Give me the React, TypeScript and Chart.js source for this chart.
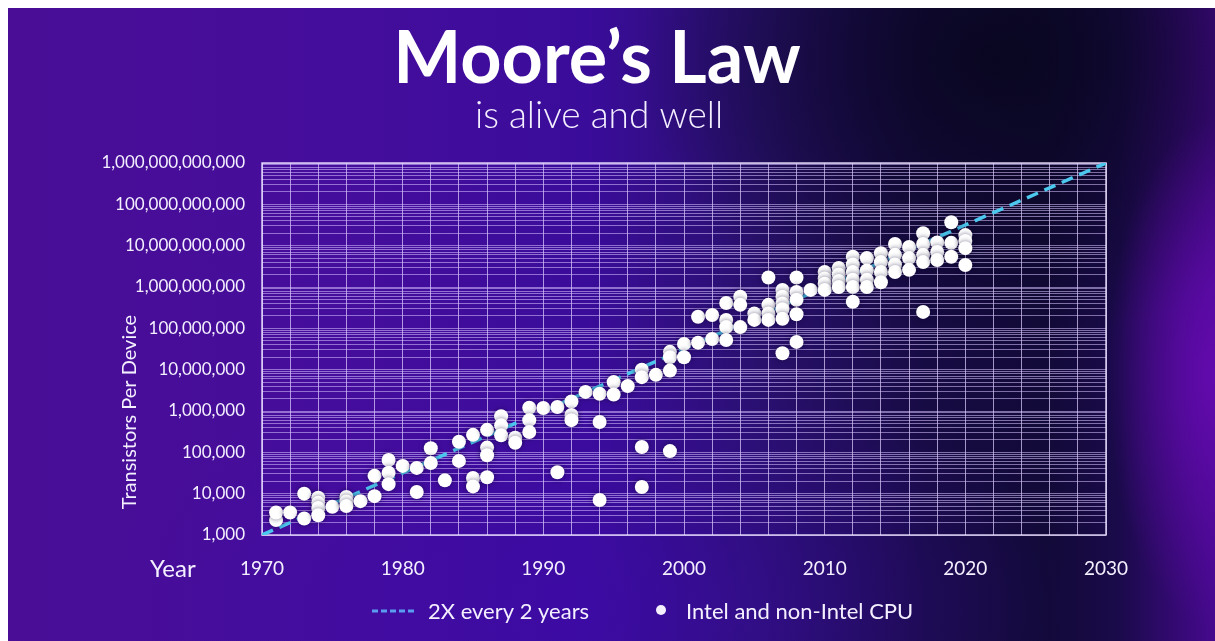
import React, { useEffect, useRef } from "react";
import { Chart, registerables } from "chart.js";

Chart.register(...registerables);

// ---- Data ----
const cpuYears = [
  1971, 1971, 1972, 1973, 1973,
  1974, 1974, 1974, 1974, 1975,
  1976, 1976, 1976, 1977, 1978, 1978,
  1979, 1979, 1979, 1980, 1981, 1981,
  1982, 1982, 1983, 1984, 1984,
  1985, 1985, 1985, 1986, 1986, 1986, 1986,
  1987, 1987, 1987, 1988, 1988,
  1989, 1989, 1989, 1990, 1991, 1991,
  1992, 1992, 1992, 1993, 1994, 1994, 1994,
  1995, 1995, 1996, 1997, 1997, 1997, 1997, 1998,
  1999, 1999, 1999, 1999, 2000, 2000, 2001, 2001, 2002, 2002,
  2003, 2003, 2003, 2003, 2004, 2004, 2004, 2005, 2005,
  2006, 2006, 2006, 2006,
  2007, 2007, 2007, 2007, 2007, 2007,
  2008, 2008, 2008, 2008, 2008, 2009,
  2010, 2010, 2010, 2010, 2011, 2011, 2011, 2011,
  2012, 2012, 2012, 2012, 2012, 2012,
  2013, 2013, 2013, 2013, 2014, 2014, 2014, 2014,
  2015, 2015, 2015, 2015, 2016, 2016, 2016,
  2017, 2017, 2017, 2017, 2017, 2018, 2018, 2018,
  2019, 2019, 2019, 2020, 2020, 2020, 2020,
];

const cpuTransistors = [
  2300, 3500, 3500, 10000, 2500,
  8000, 6000, 4500, 3000, 4800,
  8300, 6500, 5000, 6600, 27000, 8700,
  65000, 32000, 17000, 47000, 42000, 11000,
  126000, 55000, 21000, 180000, 62000,
  265000, 24000, 15000, 350000, 130000, 85000, 25000,
  750000, 450000, 260000, 225000, 170000,
  1200000, 600000, 310000, 1180000, 1250000, 33000,
  1700000, 800000, 600000, 2900000, 2600000, 540000, 7000,
  5000000, 2500000, 4000000, 10000000, 6600000, 135000, 14500, 7500000,
  27000000, 20000000, 9500000, 107000, 42000000, 20000000, 190000000, 45000000, 210000000, 55000000,
  410000000, 160000000, 107000000, 52000000, 580000000, 370000000, 107000000, 230000000, 160000000,
  1700000000, 370000000, 230000000, 160000000,
  850000000, 580000000, 400000000, 290000000, 170000000, 25000000,
  1700000000, 760000000, 490000000, 220000000, 47000000, 850000000,
  2300000000, 1600000000, 1200000000, 850000000, 2900000000, 2000000000, 1400000000, 1000000000,
  5400000000, 3500000000, 2300000000, 1500000000, 1000000000, 440000000,
  5000000000, 2500000000, 1500000000, 1000000000, 6600000000, 4000000000, 2300000000, 1300000000,
  11000000000, 6000000000, 3500000000, 2300000000, 9300000000, 5000000000, 2600000000,
  20000000000, 11000000000, 6000000000, 4000000000, 250000000, 12000000000, 7000000000, 4500000000,
  37000000000, 11700000000, 5400000000, 18000000000, 13000000000, 8700000000, 3400000000,
];

const trendYears = [1970, 2030];
const trendTransistors = [1000, 1000000000000];

const xLabelYears = [1970, 1980, 1990, 2000, 2010, 2020, 2030];
const yLabelValues = [
  1000, 10000, 100000, 1000000, 10000000, 100000000,
  1000000000, 10000000000, 100000000000, 1000000000000,
];
const yMinorMantissas = [1, 2, 3, 4, 5, 6, 7, 8, 9];

const titleText = "Moore\u2019s Law";
const subtitleText = "is alive and well";
const yAxisTitle = "Transistors Per Device";
const xAxisTitle = "Year";
const trendLabel = "2X every 2 years";
const cpuLabel = "Intel and non-Intel CPU";

const FONT = "Lato, 'Open Sans', sans-serif";
const TREND_COLOR = "#4cc8ee";

const decorPlugin = {
  id: "decor",
  beforeDatasetsDraw(chart: any) {
    const { ctx, chartArea } = chart;
    ctx.save();
    ctx.strokeStyle = "rgba(236,226,255,0.9)";
    ctx.lineWidth = 1.5;
    ctx.strokeRect(chartArea.left, chartArea.top, chartArea.right - chartArea.left, chartArea.bottom - chartArea.top);
    ctx.restore();
  },
  beforeDatasetDraw(chart: any, args: any) {
    if (args.index === 1) {
      const ctx = chart.ctx;
      ctx.save();
      ctx.shadowColor = "rgba(15,0,50,0.55)";
      ctx.shadowBlur = 5;
    }
  },
  afterDatasetDraw(chart: any, args: any) {
    if (args.index === 1) chart.ctx.restore();
  },
  afterDraw(chart: any) {
    const { ctx } = chart;
    ctx.save();
    ctx.fillStyle = "#ffffff";
    ctx.textBaseline = "alphabetic";
    ctx.textAlign = "center";
    ctx.font = `700 72px ${FONT}`;
    ctx.fillText(titleText, 589, 75);
    ctx.font = `300 37px ${FONT}`;
    ctx.fillStyle = "#f4f0ff";
    ctx.fillText(subtitleText, 591, 120);

    // x axis title "Year"
    ctx.textAlign = "left";
    ctx.textBaseline = "middle";
    ctx.font = `400 24px ${FONT}`;
    ctx.fillText(xAxisTitle, 142, 561);

    // y axis title
    ctx.save();
    ctx.translate(122, 404);
    ctx.rotate(-Math.PI / 2);
    ctx.textAlign = "center";
    ctx.font = `400 20px ${FONT}`;
    ctx.fillText(yAxisTitle, 0, 0);
    ctx.restore();

    // legend
    const ly = 603;
    ctx.save();
    ctx.strokeStyle = "#5a9cf0";
    ctx.lineWidth = 3;
    ctx.setLineDash([6, 3]);
    ctx.beginPath();
    ctx.moveTo(364, ly);
    ctx.lineTo(407, ly);
    ctx.stroke();
    ctx.restore();
    ctx.font = `400 22px ${FONT}`;
    ctx.textAlign = "left";
    ctx.fillText(trendLabel, 420, ly + 1);
    ctx.beginPath();
    ctx.arc(653, ly - 1, 5, 0, Math.PI * 2);
    ctx.fill();
    ctx.fillText(cpuLabel, 678, ly + 1);
    ctx.restore();
  },
};

export default function App() {
  const canvasRef = useRef<HTMLCanvasElement | null>(null);

  useEffect(() => {
    const canvas = canvasRef.current;
    if (!canvas) return;
    const cpuPoints = cpuYears.map((y, i) => ({ x: y, y: cpuTransistors[i] }));
    const trendPoints = trendYears.map((y, i) => ({ x: y, y: trendTransistors[i] }));

    const chart = new Chart(canvas, {
      type: "scatter",
      data: {
        datasets: [
          {
            label: trendLabel,
            data: trendPoints,
            showLine: true,
            borderColor: TREND_COLOR,
            borderWidth: 3.5,
            borderDash: [12, 7],
            pointRadius: 0,
            order: 2,
          },
          {
            label: cpuLabel,
            data: cpuPoints,
            backgroundColor: "#ffffff",
            borderWidth: 0,
            pointRadius: 7,
            order: 1,
          },
        ],
      },
      options: {
        responsive: false,
        animation: false,
        layout: { padding: { left: 0, top: 155, right: 109, bottom: 46 } },
        plugins: {
          legend: { display: false },
          tooltip: { enabled: false },
        },
        scales: {
          x: {
            type: "linear",
            min: 1970,
            max: 2030,
            afterFit: (s: any) => {
              s.height = 60;
            },
            ticks: {
              stepSize: 2,
              autoSkip: false,
              maxRotation: 0,
              padding: 22,
              color: "#f4f0ff",
              font: { family: FONT, size: 19 },
              callback: (v: any) => (xLabelYears.includes(Number(v)) ? String(v) : ""),
            },
            grid: { color: "rgba(225,210,255,0.7)", lineWidth: 1, drawTicks: false },
            border: { display: false },
          },
          y: {
            type: "logarithmic",
            min: 1000,
            max: 1000000000000,
            afterFit: (s: any) => {
              s.width = 254;
            },
            afterBuildTicks: (s: any) => {
              const ticks: any[] = [];
              for (let e = 3; e <= 12; e++) {
                for (const m of yMinorMantissas) {
                  if (e === 12 && m > 1) break;
                  ticks.push({ value: m * Math.pow(10, e) });
                }
              }
              s.ticks = ticks;
            },
            ticks: {
              autoSkip: false,
              padding: 17,
              color: "#f4f0ff",
              font: { family: FONT, size: 17 },
              callback: (v: any) => {
                const n = Number(v);
                const hit = yLabelValues.find((d) => Math.abs(Math.log10(d) - Math.log10(n)) < 1e-6);
                return hit ? hit.toLocaleString("en-US") : "";
              },
            },
            grid: { color: "rgba(215,195,255,0.55)", lineWidth: 1, drawTicks: false },
            border: { display: false },
          },
        },
      },
      plugins: [decorPlugin],
    });
    return () => chart.destroy();
  }, []);

  return (
    <div
      style={{
        position: "fixed",
        left: 8,
        top: 8,
        width: 1207,
        height: 633,
        background:
          "radial-gradient(ellipse 9% 40% at 100% 58%, rgba(100,10,175,0.95), rgba(100,10,175,0) 100%)," +
          "radial-gradient(ellipse 30% 45% at 82% 8%, rgba(8,6,30,0.9), rgba(8,6,30,0) 100%)," +
          "radial-gradient(ellipse 40% 40% at 48% 95%, rgba(62,10,170,0.6), rgba(62,10,170,0) 100%)," +
          "linear-gradient(90deg, #4a0e96 0%, #440d9c 30%, #3a0c9a 48%, #29106e 62%, #170b44 76%, #120a38 86%, #1a0a4a 92%, #46098e 100%)",
      }}
    >
      <canvas ref={canvasRef} width={1207} height={633} style={{ display: "block", width: 1207, height: 633 }} />
    </div>
  );
}
